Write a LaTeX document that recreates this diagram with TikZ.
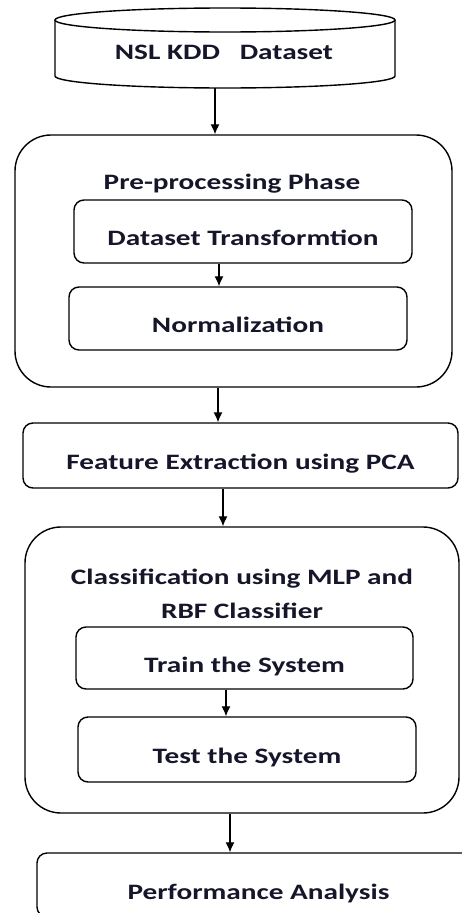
\documentclass[tikz,border=0pt]{standalone}
\usepackage{fontspec}
\setmainfont[FakeStretch=1.33]{Carlito}
\usetikzlibrary{arrows.meta}
\definecolor{ink}{HTML}{16162A}
\tikzset{>={Latex[length=10pt,width=9pt]}}
\tikzset{
  stepbox/.style={draw, line width=1.4pt, rounded corners=10pt, inner sep=0pt,
    text height=28pt, text depth=0pt, text=ink,
    font=\fontsize{22}{26}\selectfont\bfseries},
  phasebox/.style={draw, line width=1.4pt, rounded corners=36pt, inner sep=0pt},
  phasetitle/.style={inner sep=0pt, text=ink, font=\fontsize{22}{34}\selectfont\bfseries},
  flow/.style={->, line width=1.2pt}
}

\begin{document}
\begin{tikzpicture}[x=1pt, y=-1pt]
    \useasboundingbox (0,0) rectangle (461,913);
    % dataset cylinder
    \draw[line width=1.4pt, fill=white] (55,20) -- (55,76) arc[start angle=180, end angle=0, x radius=170, y radius=12] -- (395,20);
    \draw[line width=1.4pt] (225,20) ellipse [x radius=170, y radius=12];
    \node[phasetitle, text height=14pt, text depth=0pt] (db) at (224,52) {NSL KDD\ \ \ Dataset};
    \coordinate (dbbottom) at (215,88);

    % pre-processing phase
    \node[phasebox, minimum width=437pt, minimum height=252pt] (pre) at (233.5,261) {};
    \node[phasetitle, text height=14pt, text depth=0pt] (pretitle) at (232,182) {Pre-processing Phase};
    \node[stepbox, minimum width=338pt, minimum height=63pt] (trans) at (243,231.5) {Dataset Transformtion};
    \node[stepbox, minimum width=338pt, minimum height=63pt] (norm) at (238,318.5) {Normalization};

    % feature extraction
    \node[stepbox, minimum width=435pt, minimum height=65pt] (feat) at (240.5,455.5) {Feature Extraction using PCA};

    % classification phase
    \node[phasebox, minimum width=434pt, minimum height=286pt] (cls) at (242,670) {};
    \node[phasetitle, align=center] (clstitle) at (242,594) {Classification using MLP and\\RBF Classifier};
    \node[stepbox, minimum width=337pt, minimum height=62pt] (train) at (244.5,658) {Train the System};
    \node[stepbox, minimum width=338pt, minimum height=65pt] (test) at (247,749.5) {Test the System};

    % performance
    \node[stepbox, minimum width=443pt, minimum height=64pt] (perf) at (258.5,885) {Performance Analysis};

    % arrows
    \draw[flow] (dbbottom) -- (dbbottom |- pre.north);
    \draw[flow] (trans.south -| 219,0) -- (norm.north -| 219,0);
    \draw[flow] (pre.south -| 218,0) -- (feat.north -| 218,0);
    \draw[flow] (feat.south -| 223,0) -- (cls.north -| 223,0);
    \draw[flow] (train.south -| 226,0) -- (test.north -| 226,0);
    \draw[flow] (cls.south -| 230,0) -- (perf.north -| 230,0);
\end{tikzpicture}
\end{document}
